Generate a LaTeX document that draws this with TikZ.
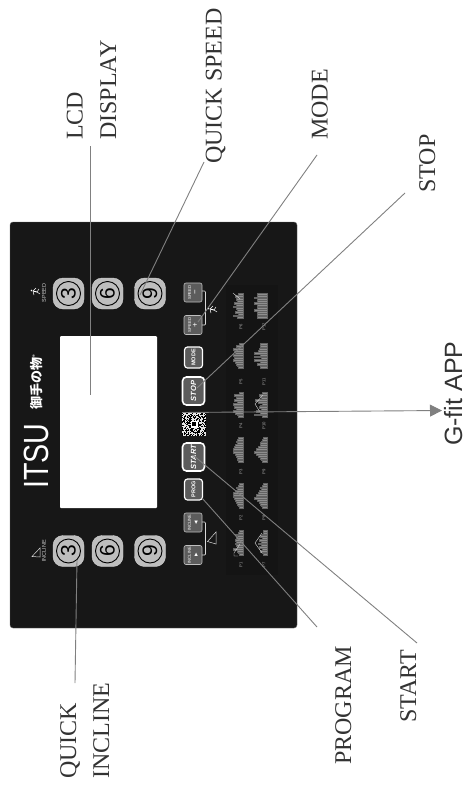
\documentclass[tikz,border=0pt]{standalone}
\usepackage{fontspec}
\usetikzlibrary{arrows.meta}
\setmainfont{Liberation Serif}
\newfontfamily\panelsans{Liberation Sans}
\newfontfamily\glyphfont{DejaVu Sans}
\newfontfamily\jpfont{Noto Sans CJK JP}
\definecolor{panelblack}{HTML}{171717}
\definecolor{chartdark}{HTML}{141414}
\definecolor{leadergray}{HTML}{808080}
\definecolor{dialgray}{HTML}{BEBEBE}
\definecolor{btngray}{HTML}{5C5C5C}
\definecolor{chartgray}{HTML}{8E8E8E}
\definecolor{labelgray}{HTML}{333333}
\tikzset{
  calllabel/.style={rotate=90, anchor=base west, inner sep=0pt, text=labelgray, font=\fontsize{24}{24}\selectfont},
  leader/.style={draw=leadergray, line width=0.9pt},
  dialbox/.style={draw=dialgray!70!white, fill=dialgray, rounded corners=10pt, minimum size=31pt, inner sep=0pt},
  dialring/.style={circle, draw=black, line width=0.9pt, fill=dialgray, minimum size=24pt, inner sep=0pt, rotate=90, text=black, font=\panelsans\fontsize{21}{21}\selectfont},
  smallbtn/.style={rectangle, rounded corners=2pt, draw=white!75!black, line width=0.6pt, fill=btngray, minimum width=19pt, minimum height=18pt, inner sep=0pt, rotate=90, align=center, text=white, font=\panelsans\fontsize{4.2}{6}\selectfont},
  modebtn/.style={rectangle, rounded corners=3pt, draw=white, line width=1.2pt, fill=btngray, minimum width=21pt, minimum height=18pt, inner sep=0pt, rotate=90, text=white, font=\panelsans\bfseries\fontsize{5.5}{6}\selectfont},
  runbtn/.style={rectangle, rounded corners=4pt, draw=white, line width=1.6pt, fill=btngray, minimum width=28pt, minimum height=22pt, inner sep=0pt, rotate=90, text=white, font=\panelsans\bfseries\itshape\fontsize{7.5}{8}\selectfont},
  proglabel/.style={rotate=90, inner sep=0pt, text=white!65!black, font=\panelsans\fontsize{4.2}{5}\selectfont},
  iconline/.style={draw=white!85!black, line width=0.5pt},
}
\newcommand{\progchart}[3]{%
  \foreach \h [count=\i] in {#3}
    \filldraw[fill=chartgray, draw=chartgray!70!black, line width=0.2pt] ({#1-\h-2},{#2+(\i-1)*1.8}) rectangle (#1,{#2+\i*1.8});
}
\newcommand{\runnericon}[2]{%
  \begin{scope}[shift={(#1,#2)}]
    \draw[white, line width=0.9pt] (-2,-1) -- (2,0);
    \draw[white, line width=0.5pt] (2,0) -- (4,-3) (2,0) -- (5,2) (-2,-1) -- (1,-4) (-2,-1) -- (-1,3);
    \fill[white] (-3.5,-1.5) circle (0.9pt);
  \end{scope}
}
\begin{document}
\begin{tikzpicture}[x=1pt, y=-1pt]
\useasboundingbox (0,0) rectangle (468,792);
% panel and screen
\node[rectangle, fill=panelblack, draw=black!60, rounded corners=3pt, minimum width=287pt, minimum height=406pt, inner sep=0pt] (panel) at (153.5,425) {};
\fill[chartdark] (226,285) rectangle (278,575);
\node[rectangle, fill=white, rounded corners=1pt, minimum width=97pt, minimum height=172pt, inner sep=0pt] (lcd) at (108.5,422) {};
% brand
\node[rotate=90, anchor=base west, inner sep=0pt, text=white, font=\panelsans\fontsize{35}{35}\selectfont] (brand) at (48,489) {\scalebox{0.82}[1]{ITSU}};
\node[rotate=90, anchor=base west, inner sep=0pt, text=white, font=\jpfont\bfseries\fontsize{13}{13}\selectfont] (brandjp) at (41,410) {御手の物\textsuperscript{\fontsize{5}{5}\selectfont ®}};
% quick keys
\foreach \dx/\num in {68.5/3,107.5/6,150/9}{
  \node[dialbox] (speedbox\num) at (\dx,293.5) {};
  \node[dialring] (speed\num) at (\dx,293.5) {\num};
  \node[dialbox] (inclinebox\num) at (\dx,551) {};
  \node[dialring] (incline\num) at (\dx,551) {\num};
}
\node[proglabel, text=white!80!black, font=\panelsans\fontsize{5.5}{6}\selectfont] (speedtitle) at (44,293) {SPEED};
\node[proglabel, text=white!80!black, font=\panelsans\fontsize{5.5}{6}\selectfont] (inclinetitle) at (44,551) {INCLINE};
\runnericon{35}{292}
\draw[iconline] (32,556.5) -- (40,548) -- (40,557) -- cycle;
% small keys
\node[smallbtn] (speedminus) at (193,292.5) {SPEED\\[0.5pt]{\fontsize{8}{8}\selectfont −}};
\node[smallbtn] (speedplus) at (193,325) {SPEED\\[0.5pt]{\fontsize{8}{8}\selectfont +}};
\node[smallbtn] (inclinedown) at (193,522.5) {INCLINE\\[0.5pt]{\glyphfont\fontsize{4.5}{5}\selectfont ◀}};
\node[smallbtn] (inclineup) at (193,555) {INCLINE\\[0.5pt]{\glyphfont\fontsize{4.5}{5}\selectfont ▶}};
\draw[iconline, line width=0.7pt, rounded corners=1pt] (202,291) -- (205.5,291) -- (205.5,325) -- (202,325);
\draw[iconline, line width=0.7pt, rounded corners=1pt] (202,522) -- (205.5,522) -- (205.5,555) -- (202,555);
\runnericon{212}{310}
\draw[iconline] (207.5,541.5) -- (216,532) -- (216,544) -- cycle;
\node[modebtn] (modekey) at (193.5,357.5) {MODE};
\node[runbtn] (stopkey) at (193.5,391) {STOP};
\node[runbtn] (startkey) at (193.5,457) {START};
\node[modebtn] (progkey) at (193.5,489.5) {PROG};
% qr code
\node[rectangle, fill=white!90!black, minimum size=24pt, inner sep=0pt] (qrcode) at (194,424) {};
\pgfmathsetseed{11}
\foreach \qx in {0,...,23}{
  \foreach \qy in {0,...,23}{
    \pgfmathparse{int(rnd*2)}
    \ifnum\pgfmathresult=1 \fill[black] (182+\qx,412+\qy) rectangle +(1,1); \fi
  }
}
\fill[white] (190.5,420.5) rectangle (197.5,427.5);
\fill[black] (192,422) rectangle (196,426);
% program charts
\progchart{243}{293}{3,6,4,5,4,7,5,8,5,4,6,3,8,4}
\progchart{243}{343}{2,5,3,8,7,6,8,6,7,8,6,5,4,3}
\progchart{243}{392}{2,7,3,5,7,4,8,5,7,5,8,6,4,3}
\progchart{243}{437}{3,4,5,4,6,7,8,8,8,6,5,4,4,3}
\progchart{243}{483}{2,3,5,4,6,8,8,8,7,6,5,4,3,2}
\progchart{243}{530}{2,3,6,4,5,6,5,6,5,4,8,4,3,2}
\progchart{267}{293}{8,8,11,8,8,11,8,8,8,11,8,8,8,8}
\progchart{267}{343}{5,5,5,6,7,11,5,11,4,11,5,8,5,5}
\progchart{267}{392}{3,6,5,4,10,7,3,5,6,4,9,5,11,3}
\progchart{267}{437}{2,3,4,5,5,7,9,8,11,9,7,5,4,3}
\progchart{267}{483}{2,3,5,4,6,7,9,7,11,8,6,5,4,3}
\progchart{267}{530}{2,2,3,5,3,6,4,7,4,6,3,5,3,2}
\draw[iconline, line width=0.4pt] (240,299) -- (233,293);
\draw[iconline, line width=0.4pt] (238,556) -- (234,556) -- (234,553) -- (240,544);
\draw[iconline, line width=0.4pt] (262,533) -- (255,543) -- (262,553);
\draw[iconline, line width=0.4pt] (263,395) -- (255,404) -- (260,412);
\foreach \py/\pa/\pb in {327/P6/P12,382/P5/P11,426/P4/P10,472/P3/P9,518/P2/P8,565/P1/P7}{
  \node[proglabel] (lab\pa) at (241,\py) {\pa};
  \node[proglabel] (lab\pb) at (264,\py) {\pb};
}
% callouts
\node[calllabel] (lblLcd) at (82.7,140) {LCD};
\node[calllabel] (lblDisplay) at (116,140) {DISPLAY};
\node[calllabel] (lblSpeed) at (221.7,164) {QUICK SPEED};
\node[calllabel] (lblMode) at (327.7,140) {MODE};
\node[calllabel] (lblStop) at (435,193) {STOP};
\node[calllabel] (lblProgram) at (351,765) {PROGRAM};
\node[calllabel] (lblStart) at (416,723) {START};
\node[calllabel] (lblQuick) at (76,779) {QUICK};
\node[calllabel] (lblIncline) at (109,779) {INCLINE};
\node[calllabel, font=\panelsans\fontsize{25}{25}\selectfont] (lblApp) at (462,446) {G-fit APP};
% leaders
\coordinate (endLcd) at (90,146);
\coordinate (ptLcd) at (90,395);
\coordinate (endSpeed) at (204,162);
\coordinate (ptSpeed) at (140,295);
\coordinate (endMode) at (317,155);
\coordinate (ptMode) at (198,322);
\coordinate (endStop) at (405,193);
\coordinate (ptStop) at (197,388);
\coordinate (endStart) at (417,643);
\coordinate (ptStart) at (193,455);
\coordinate (endProg) at (317,627);
\coordinate (ptProg) at (202,498);
\coordinate (endIncline) at (75,683);
\coordinate (ptIncline) at (77,560);
\coordinate (tipApp) at (442,410.5);
\coordinate (ptApp) at (182,412.5);
\draw[leader] (endLcd) -- (ptLcd);
\draw[leader] (endSpeed) -- (ptSpeed);
\draw[leader] (endMode) -- (ptMode);
\draw[leader] (endStop) -- (ptStop);
\draw[leader] (endStart) -- (ptStart);
\draw[leader] (endProg) -- (ptProg);
\draw[leader] (endIncline) -- (ptIncline);
\draw[leader, -{Triangle[width=12pt, length=12pt, fill=leadergray]}] (ptApp) -- (tipApp);
\end{tikzpicture}
\end{document}
